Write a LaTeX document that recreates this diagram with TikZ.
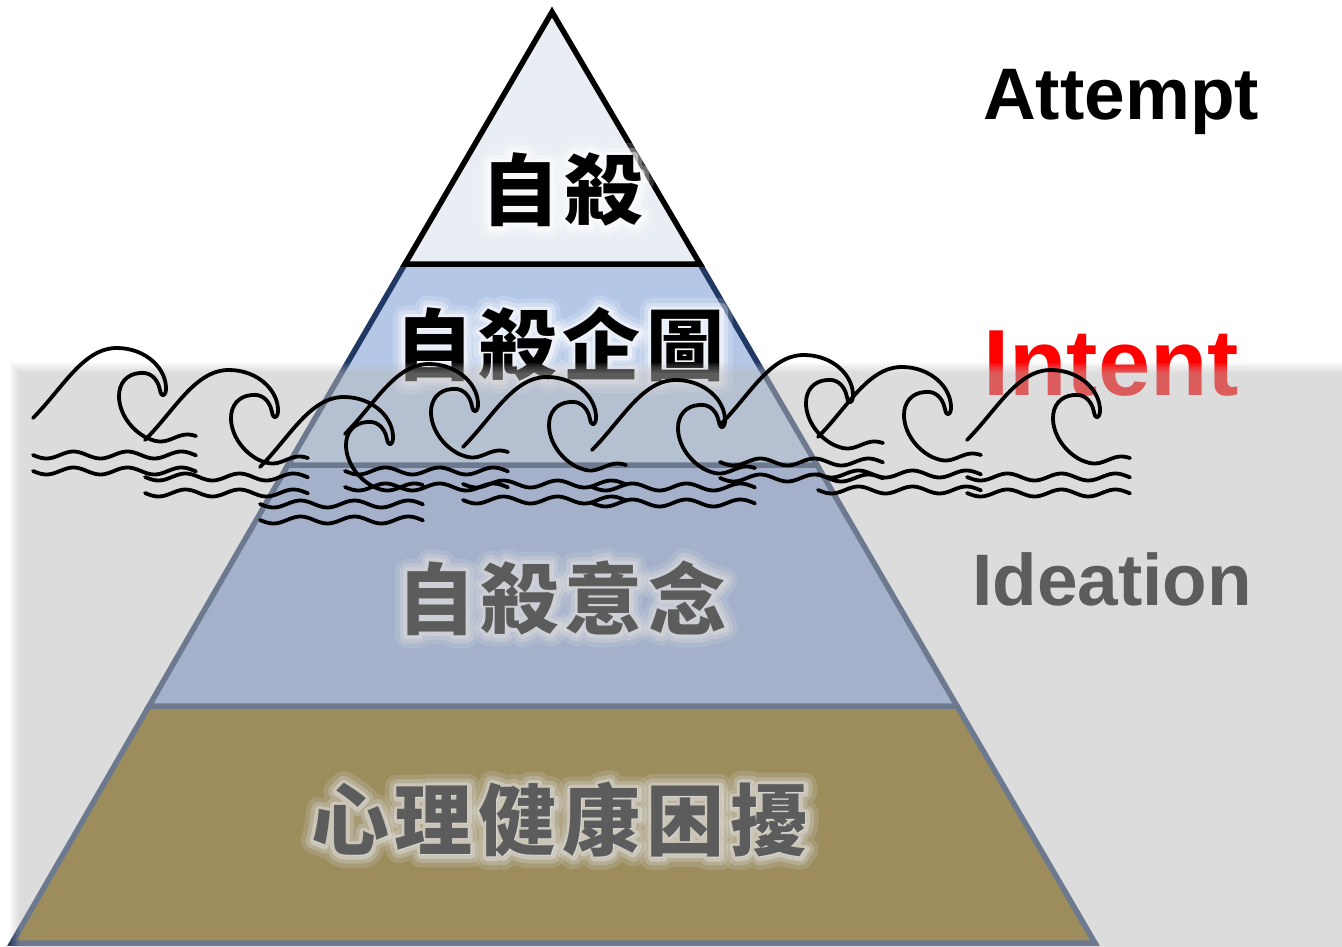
\documentclass[tikz,border=0pt]{standalone}
\usepackage{fontspec}
\setmainfont{Liberation Sans}
\newfontfamily\cjk{Noto Sans CJK TC}
\newfontfamily\cjkwide{Noto Sans CJK TC}[FakeBold=32]
\newfontfamily\cjkmid{Noto Sans CJK TC}[FakeBold=20]
\newfontfamily\cjknear{Noto Sans CJK TC}[FakeBold=10]
\definecolor{tierA}{HTML}{E9EDF4}
\definecolor{tierB}{HTML}{B4C7E7}
\definecolor{tierC}{HTML}{8FAADC}
\definecolor{tierD}{HTML}{7F6000}
\definecolor{navyedge}{HTML}{1F3864}
\definecolor{seagray}{HTML}{BEBEBE}

% one breaking wave: crest with curl plus three ripple lines
\newcommand\breaker[2]{%
  \begin{scope}[shift={(#1,#2)}]
    \draw[surfline] (0,0) .. controls (30,-30) and (50,-70) .. (84,-70)
      .. controls (112,-70) and (134,-50) .. (133,-28)
      .. controls (132,-21) and (128,-21) .. (127,-28)
      .. controls (124,-42) and (115,-46) .. (107,-45)
      .. controls (93,-44) and (86,-34) .. (86,-22)
      .. controls (86,-5) and (98,12) .. (114,20);
    \draw[surfline] plot[domain=114:163,samples=25,smooth] (\x,{20+3.5*sin((\x-114)*6.67)});
    \draw[surfline] plot[domain=0:163,samples=60,smooth] (\x,{37+3.5*sin(\x*6.67)});
    \draw[surfline] plot[domain=0:163,samples=60,smooth] (\x,{53+3.5*sin(\x*6.67)});
  \end{scope}}

% label with a soft white halo behind it
\newcommand\halolabel[4]{%
  \node[halo,opacity=0.18] at (#2,#3) {\special{pdf:literal 1 j 1 J}\cjkwide\bfseries #4};
  \node[halo,opacity=0.3] at (#2,#3) {\special{pdf:literal 1 j 1 J}\cjkmid\bfseries #4};
  \node[halo,opacity=0.5] at (#2,#3) {\special{pdf:literal 1 j 1 J}\cjknear\bfseries #4};
  \node[cjklabel] (#1) at (#2,#3) {#4};}

\newcommand\gp{\hspace{6pt}}

\begin{document}
\begin{tikzpicture}[x=1pt,y=-1pt,
  tier/.style={line width=5.5pt,line join=miter},
  cjklabel/.style={font=\cjk\bfseries\fontsize{78}{80}\selectfont,inner sep=0pt,text=black},
  halo/.style={font=\fontsize{78}{80}\selectfont,inner sep=0pt,text=white},
  engl/.style={font=\bfseries\fontsize{73}{80}\selectfont,inner sep=0pt,anchor=base west},
  surfline/.style={line width=3.8pt,line cap=round,line join=round,black}]
\useasboundingbox (0,0) rectangle (1342,947);
\fill[white] (0,0) rectangle (1342,947);

% pyramid corners
\coordinate (apex) at (552,12);
\coordinate (l1) at (405,264);   \coordinate (r1) at (700,264);
\coordinate (l2) at (288,465);   \coordinate (r2) at (817,465);
\coordinate (l3) at (149,706);   \coordinate (r3) at (957,706);
\coordinate (l4) at (12,943);    \coordinate (r4) at (1095,943);

% tiers, bottom to top
\filldraw[tier,fill=tierD,draw=navyedge] (l3) -- (r3) -- (r4) -- (l4) -- cycle;
\filldraw[tier,fill=tierC,draw=navyedge] (l2) -- (r2) -- (r3) -- (l3) -- cycle;
\filldraw[tier,fill=tierB,draw=navyedge] (l1) -- (r1) -- (r2) -- (l2) -- cycle;
\filldraw[tier,fill=tierA,draw=black] (apex) -- (r1) -- (l1) -- cycle;

% tier labels
\halolabel{t1}{562}{190}{自\gp 殺}
\halolabel{t2}{560}{345}{自\gp 殺\gp 企\gp 圖}
\halolabel{t3}{562}{598}{自\gp 殺\gp 意\gp 念}
\halolabel{t4}{560}{820}{心\gp 理\gp 健\gp 康\gp 困\gp 擾}

% side labels
\node[engl] (attempt) at (983,120) {Attempt};
\node[engl,text=red,font=\bfseries\fontsize{94}{100}\selectfont] (intent) at (983,395) {Intent};
\node[engl] (ideation) at (972,605) {Ideation};

% translucent water body with soft top and left edges
\foreach \k in {0,...,5}{
  \fill[seagray,opacity=0.1091] (10+2*\k,363+2*\k) rectangle (1342,947);
}

% surface waves
\breaker{33}{418}
\breaker{145}{440}
\breaker{260}{467}
\breaker{345}{434}
\breaker{463}{447}
\breaker{592}{450}
\breaker{720}{425}
\breaker{818}{437}
\breaker{967}{440}
\end{tikzpicture}
\end{document}
